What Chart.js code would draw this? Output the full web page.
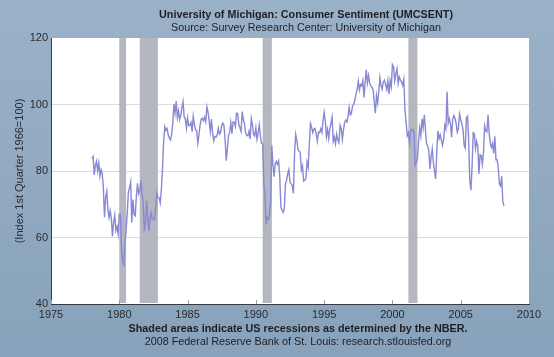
<!DOCTYPE html>
<html><head><meta charset="utf-8">
<script src="https://cdn.jsdelivr.net/npm/chart.js@4"></script>
<style>html,body{margin:0;padding:0;background:#8fa9c0;overflow:hidden}</style>
</head><body>
<canvas id="c" width="554" height="357"></canvas>
<script>
// ---- data ----
const firstYear = 1978; // monthly series starts January 1978
const sentiment = [
 83.7, 84.3, 78.8, 81.6, 82.9, 80.0, 82.4, 78.4, 80.4, 79.3, 75.0, 66.1, // 1978
 72.1, 73.9, 68.4, 66.0, 68.1, 65.8, 60.4, 64.5, 66.7, 62.1, 63.3, 61.0, // 1979
 67.0, 66.9, 56.5, 52.7, 51.7, 58.7, 62.3, 67.3, 73.7, 75.0, 76.7, 64.5, // 1980
 71.4, 66.9, 66.5, 72.4, 76.3, 73.1, 74.1, 77.2, 73.1, 70.3, 62.5, 64.3, // 1981
 71.0, 66.5, 62.0, 65.5, 67.5, 65.7, 65.4, 65.4, 69.3, 73.4, 72.1, 71.9, // 1982
 70.4, 74.6, 80.8, 89.1, 93.3, 92.2, 92.8, 90.9, 89.9, 89.3, 91.1, 94.2, // 1983
 100.1, 97.4, 101.0, 96.1, 98.1, 95.5, 96.6, 99.1, 100.9, 96.3, 95.7, 92.9, // 1984
 96.0, 93.7, 93.7, 94.6, 91.8, 96.5, 94.0, 92.4, 92.1, 88.4, 90.9, 93.9, // 1985
 95.6, 95.9, 95.1, 96.2, 94.8, 99.3, 97.7, 94.9, 91.9, 95.6, 91.4, 89.1, // 1986
 90.4, 90.2, 90.8, 92.8, 91.1, 91.5, 93.7, 94.4, 93.6, 89.3, 83.1, 86.8, // 1987
 90.8, 91.6, 94.6, 91.2, 94.8, 94.7, 93.4, 97.4, 97.3, 94.1, 93.0, 91.9, // 1988
 97.9, 95.4, 94.3, 91.5, 90.7, 90.6, 92.0, 89.6, 95.8, 93.9, 90.9, 90.5, // 1989
 93.0, 89.5, 91.3, 93.9, 90.6, 88.3, 88.2, 76.4, 72.8, 63.9, 66.0, 65.5, // 1990
 66.8, 70.4, 87.7, 81.8, 78.3, 82.1, 82.9, 82.0, 83.0, 78.3, 69.1, 68.2, // 1991
 67.5, 68.8, 76.0, 77.2, 79.2, 80.4, 76.6, 76.1, 75.6, 73.3, 85.3, 91.0, // 1992
 89.3, 86.6, 85.9, 85.6, 80.3, 81.5, 77.0, 77.3, 77.9, 82.7, 81.2, 88.2, // 1993
 94.3, 93.2, 91.5, 92.6, 92.8, 91.2, 89.0, 91.7, 91.5, 92.7, 91.6, 95.1, // 1994
 97.6, 95.1, 90.3, 92.5, 89.8, 92.7, 94.4, 96.2, 88.9, 90.2, 88.2, 91.0, // 1995
 89.3, 88.5, 93.7, 92.7, 89.4, 92.4, 94.7, 95.3, 94.7, 96.5, 99.2, 96.9, // 1996
 97.4, 99.7, 100.0, 101.4, 103.2, 104.5, 107.1, 104.4, 106.0, 105.6, 107.2, 102.1, // 1997
 106.6, 110.4, 106.5, 108.7, 106.5, 105.6, 105.2, 104.4, 100.9, 97.4, 102.7, 100.5, // 1998
 103.9, 108.1, 105.7, 104.6, 106.8, 107.3, 106.0, 104.5, 107.2, 103.2, 107.2, 105.4, // 1999
 112.0, 111.3, 107.1, 109.2, 110.7, 106.4, 108.3, 107.3, 106.8, 105.8, 107.6, 98.4, // 2000
 94.7, 90.6, 91.5, 88.4, 92.0, 92.6, 92.4, 91.5, 81.8, 82.7, 83.9, 88.8, // 2001
 93.0, 90.7, 95.7, 93.0, 96.9, 92.4, 88.1, 87.6, 86.1, 80.6, 84.2, 86.7, // 2002
 82.4, 79.9, 77.6, 86.0, 92.1, 89.7, 90.9, 89.3, 87.7, 89.6, 93.7, 92.6, // 2003
 103.8, 94.4, 95.8, 94.2, 90.2, 95.6, 96.7, 95.9, 94.2, 91.7, 92.8, 97.1, // 2004
 95.5, 94.1, 92.6, 87.7, 86.9, 96.0, 96.5, 89.1, 76.9, 74.2, 81.6, 91.5, // 2005
 91.2, 86.7, 88.9, 87.4, 79.1, 84.9, 84.7, 82.0, 85.4, 93.6, 92.1, 91.7, // 2006
 96.9, 91.3, 88.4, 87.1, 88.3, 85.3, 90.4, 83.4, 83.4, 80.9, 76.1, 75.5, // 2007
 78.4, 70.8, 69.5 // 2008
];
const xTickYears = [1975, 1980, 1985, 1990, 1995, 2000, 2005, 2010];
const yTickValues = [40, 60, 80, 100, 120];
const recessionStarts = [1980.0, 1981.5, 1990.5, 2001.17];
const recessionEnds   = [1980.5, 1982.83, 1991.17, 2001.83];
const titleText = 'University of Michigan: Consumer Sentiment (UMCSENT)';
const subtitleText = 'Source: Survey Research Center: University of Michigan';
const yAxisTitle = '(Index 1st Quarter 1966=100)';
const noteText = 'Shaded areas indicate US recessions as determined by the NBER.';
const creditText = '2008 Federal Reserve Bank of St. Louis: research.stlouisfed.org';

// monthly points (x = year + month/12)
const points = sentiment.map((v, i) => ({ x: firstYear + i / 12, y: v }));

const FONT = '"Liberation Sans", Arial, sans-serif';
const TXT = '#1e1e26';

const decor = {
  id: 'decor',
  beforeDraw(chart) {
    const { ctx, chartArea: a, width, height } = chart;
    ctx.save();
    const g = ctx.createLinearGradient(0, 0, 0, height);
    g.addColorStop(0, '#9ab2c8');
    g.addColorStop(1, '#88a2bb');
    ctx.fillStyle = g;
    ctx.fillRect(0, 0, width, height);
    ctx.fillStyle = '#ffffff';
    ctx.fillRect(a.left, a.top, a.right - a.left, a.bottom - a.top);
    ctx.restore();
  },
  beforeDatasetsDraw(chart) {
    const { ctx, chartArea: a, scales } = chart;
    ctx.save();
    ctx.fillStyle = '#b4b7bf';
    recessionStarts.forEach((s, i) => {
      const x0 = scales.x.getPixelForValue(s);
      const x1 = scales.x.getPixelForValue(recessionEnds[i]);
      ctx.fillRect(x0, a.top, x1 - x0, a.bottom - a.top - 1);
    });
    // small inward ticks on x axis
    ctx.strokeStyle = '#a0a0a0';
    ctx.lineWidth = 1;
    xTickYears.forEach(yv => {
      const x = Math.round(scales.x.getPixelForValue(yv)) + 0.5;
      ctx.beginPath(); ctx.moveTo(x, a.bottom); ctx.lineTo(x, a.bottom - 4); ctx.stroke();
    });
    ctx.restore();
  },
  afterDraw(chart) {
    const { ctx, chartArea: a } = chart;
    ctx.save();
    ctx.fillStyle = TXT;
    ctx.textAlign = 'center';
    ctx.textBaseline = 'middle';
    ctx.font = 'bold 10.8px ' + FONT;
    ctx.fillText(titleText, 306, 15);
    ctx.font = '10.8px ' + FONT;
    ctx.fillText(subtitleText, 306, 28);
    ctx.font = 'bold 10.8px ' + FONT;
    ctx.fillText(noteText, 298, 329);
    ctx.font = '10.8px ' + FONT;
    ctx.fillText(creditText, 298, 342);
    ctx.translate(20, (a.top + a.bottom) / 2);
    ctx.rotate(-Math.PI / 2);
    ctx.fillStyle = '#2a2a30';
    ctx.font = '11px ' + FONT;
    ctx.fillText(yAxisTitle, 0, 0);
    ctx.restore();
  }
};

new Chart(document.getElementById('c'), {
  type: 'line',
  data: {
    datasets: [{
      data: points,
      borderColor: '#8888d4',
      borderWidth: 1.4,
      pointRadius: 0,
      tension: 0,
      fill: false
    }]
  },
  options: {
    responsive: false,
    animation: false,
    devicePixelRatio: 1,
    layout: { padding: { left: 0, top: 38, right: 25, bottom: 0 } },
    plugins: { legend: { display: false }, tooltip: { enabled: false }, title: { display: false } },
    scales: {
      x: {
        type: 'linear',
        min: xTickYears[0],
        max: xTickYears[xTickYears.length - 1],
        afterBuildTicks: s => { s.ticks = xTickYears.map(v => ({ value: v })); },
        afterFit: s => { s.height = 53; },
        ticks: { callback: v => String(v), color: '#2a2a30', font: { size: 11, family: FONT }, padding: 4, maxRotation: 0 },
        grid: { display: false, drawTicks: false },
        border: { display: true, color: '#3a3a44', width: 1 }
      },
      y: {
        min: yTickValues[0],
        max: yTickValues[yTickValues.length - 1],
        afterBuildTicks: s => { s.ticks = yTickValues.map(v => ({ value: v })); },
        afterFit: s => { s.width = 51; },
        ticks: { color: '#2a2a30', font: { size: 11, family: FONT }, padding: 3 },
        grid: {
          drawTicks: false,
          color: c => (c.tick && (c.tick.value === 40 || c.tick.value === 120)) ? 'rgba(0,0,0,0)' : '#dcdcdc',
          lineWidth: 1
        },
        border: { display: true, color: '#3a3a44', width: 1 }
      }
    }
  },
  plugins: [decor]
});
</script>
</body></html>
